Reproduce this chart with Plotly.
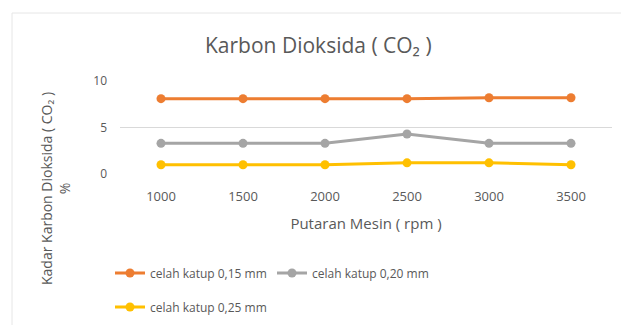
import plotly.graph_objects as go

rpm = ["1000", "1500", "2000", "2500", "3000", "3500"]
s015 = [8.1, 8.1, 8.1, 8.1, 8.2, 8.2]
s020 = [3.3, 3.3, 3.3, 4.3, 3.3, 3.3]
s025 = [1.0, 1.0, 1.0, 1.2, 1.2, 1.0]
names = ["celah katup 0,15 mm", "celah katup 0,20 mm", "celah katup 0,25 mm"]
colors = ["#ED7D31", "#A5A5A5", "#FFC000"]

W, H = 621, 325
L, R, T, B = 120, 9, 81, 151
pw, ph = W - L - R, H - T - B
def px(x): return (x - L) / pw
def py(y): return (H - B - y) / ph

fig = go.Figure()
for vals, nm, c, lg in zip([s015, s020, s025], names, colors, ["legend", "legend", "legend2"]):
    fig.add_trace(go.Scatter(x=rpm, y=vals, name=nm, mode="lines+markers",
                             line=dict(color=c, width=3), marker=dict(color=c, size=9),
                             legend=lg))

font = "Open Sans"
txt = "#595959"
fig.update_layout(
    width=W, height=H, margin=dict(l=L, r=R, t=T, b=B, autoexpand=False),
    paper_bgcolor="white", plot_bgcolor="white",
    font=dict(family=font, color=txt, size=12),
    showlegend=True,
    legend=dict(orientation="h", x=px(110), y=py(273), xanchor="left", yanchor="middle",
                font=dict(size=12, color=txt), entrywidth=117, entrywidthmode="pixels",
                bgcolor="rgba(0,0,0,0)"),
    legend2=dict(orientation="h", x=px(110), y=py(307), xanchor="left", yanchor="middle",
                 font=dict(size=12, color=txt), bgcolor="rgba(0,0,0,0)"),
    xaxis=dict(type="category", range=[-0.5, 5.5], showgrid=False, showline=False, zeroline=False,
               tickfont=dict(size=13, color=txt), ticklabelstandoff=13,
               title=dict(text="Putaran Mesin ( rpm )", font=dict(size=15, color=txt), standoff=14)),
    yaxis=dict(range=[0, 10], tickvals=[0, 5, 10], showgrid=True, gridcolor="#D9D9D9",
               gridwidth=1, zeroline=False, showline=False, tickfont=dict(size=12, color=txt),
               ticklabelstandoff=12),
)
fig.add_annotation(text="Karbon Dioksida ( CO₂ )", xref="paper", yref="paper",
                   x=px(318), y=py(45), showarrow=False, font=dict(size=21, color=txt),
                   xanchor="center", yanchor="middle")
fig.add_annotation(text="Kadar Karbon Dioksida ( CO₂ )<br>%", xref="paper", yref="paper",
                   x=px(55), y=py(189), showarrow=False, textangle=-90,
                   font=dict(size=14, color=txt), xanchor="center", yanchor="middle")
fig.add_shape(type="rect", xref="paper", yref="paper", x0=px(12), y0=py(335), x1=px(640), y1=py(13),
              line=dict(color="#E6E6E6", width=1), fillcolor="rgba(0,0,0,0)", layer="below")
fig.write_html("out.html", config={"displayModeBar": False},
               post_script="document.body.style.margin='0';document.body.style.overflow='hidden';")
